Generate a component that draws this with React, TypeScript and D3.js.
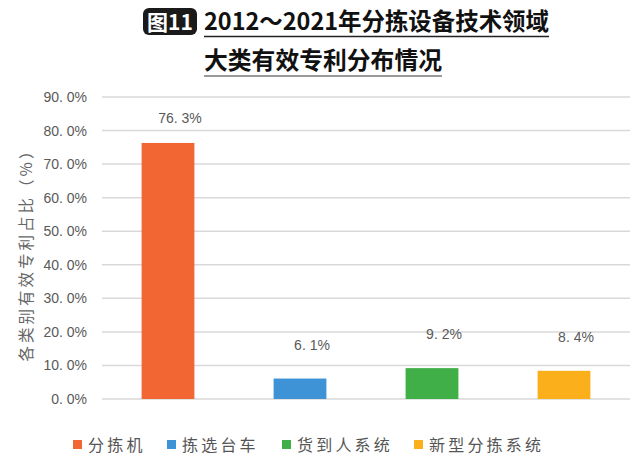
import React from "react";
import * as d3 from "d3";

const categories = ["分拣机", "拣选台车", "货到人系统", "新型分拣系统"];
const values = [76.3, 6.1, 9.2, 8.4];
const colors = ["#F26633", "#3E93D6", "#41AF48", "#FBB01B"];
const yTicks = [0, 10, 20, 30, 40, 50, 60, 70, 80, 90];
const titleLine1 = "2012～2021年分拣设备技术领域";
const titleLine2 = "大类有效专利分布情况";
const badge = "图11";
const yTitle = "各类别有效专利占比（%）";

const W = 642;
const H = 467;
const left = 102;
const right = 630;
const top = 97;
const bottom = 399;

const fmt = (v: number) => d3.format(".1f")(v).replace(".", ". ") + "%";

export default function App() {
  const x = d3.scaleBand<string>().domain(categories).range([left, right]).paddingInner(0.6).paddingOuter(0.3);
  const y = d3.scaleLinear().domain([0, 90]).range([bottom, top]);
  const font = "'Noto Sans CJK SC', 'Noto Sans', sans-serif";
  const numFont = "'Liberation Sans', Arial, sans-serif";
  const legendX = [73, 167, 282, 414];
  return (
    <svg width={W} height={H} style={{ position: "absolute", left: 0, top: 0, background: "#fff" }}>
      {/* title */}
      <rect x={143} y={8} width={54} height={27} rx={6} fill="#1a1a1a" />
      <text x={170} y={29.5} textAnchor="middle" fill="#fff" fontFamily={font} fontWeight={700} fontSize={21}>{badge}</text>
      <text x={204} y={30} fill="#111" fontFamily={font} fontWeight={600} fontSize={24} textLength={345} lengthAdjust="spacingAndGlyphs">{titleLine1}</text>
      <line x1={204} x2={549} y1={36.5} y2={36.5} stroke="#222" strokeWidth={1.5} />
      <text x={204} y={69} fill="#111" fontFamily={font} fontWeight={600} fontSize={24} textLength={238} lengthAdjust="spacingAndGlyphs">{titleLine2}</text>
      <line x1={204} x2={442} y1={76} y2={76} stroke="#999" strokeWidth={2} />

      {/* grid */}
      {yTicks.map((t) => (
        <g key={t}>
          <line x1={left} x2={right} y1={y(t)} y2={y(t)} stroke="#D9D9D9" strokeWidth={1.5} />
          <text x={87} y={y(t) + 5} textAnchor="end" fill="#595959" fontFamily={numFont} fontSize={14}>{fmt(t)}</text>
        </g>
      ))}

      {/* bars */}
      {categories.map((c, i) => (
        <g key={c}>
          <rect x={x(c)} y={y(values[i])} width={x.bandwidth()} height={y(0) - y(values[i])} fill={colors[i]} />
          <text x={(x(c) as number) + x.bandwidth() / 2 + 12} y={y(values[i]) - (i === 0 ? 20 : 29)} textAnchor="middle" fill="#595959" fontFamily={numFont} fontSize={14}>{fmt(values[i])}</text>
        </g>
      ))}

      {/* y title */}
      <text transform={`translate(32,251) rotate(-90)`} textAnchor="middle" fill="#666" fontFamily={font} fontWeight={400} fontSize={15.5} letterSpacing={3}>{yTitle}</text>

      {/* legend */}
      {categories.map((c, i) => (
        <g key={c}>
          <rect x={legendX[i]} y={440} width={9} height={9} fill={colors[i]} />
          <text x={legendX[i] + 15} y={450.5} fill="#555" fontFamily={font} fontWeight={400} fontSize={16} letterSpacing={3.2}>{c}</text>
        </g>
      ))}
    </svg>
  );
}
